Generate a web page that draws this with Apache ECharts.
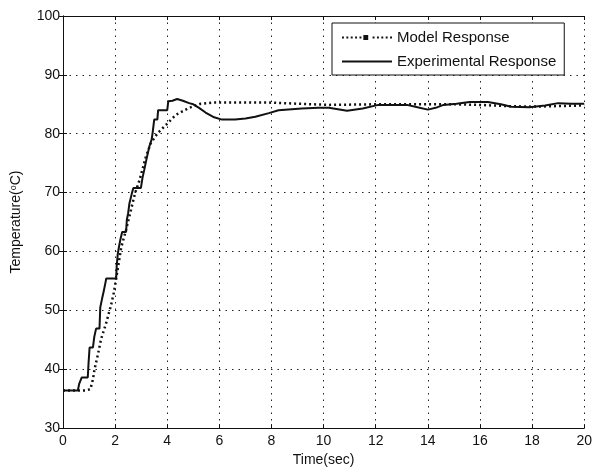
<!DOCTYPE html>
<html>
<head>
<meta charset="utf-8">
<script src="https://cdn.jsdelivr.net/npm/echarts@6/dist/echarts.min.js"></script>
<style>
  html, body { margin: 0; padding: 0; background: #fff; }
  #chart { width: 595px; height: 472px; }
</style>
</head>
<body>
<div id="chart"></div>
<script>
// Step response: time (s) vs temperature (°C)
const seriesNames = ['Model Response', 'Experimental Response'];

const modelResponse = [
  [0, 36.4], [0.85, 36.4], [1.05, 36.6], [1.15, 38.3], [1.21, 40.0], [1.34, 42.5],
  [1.46, 45.1], [1.66, 47.9], [1.85, 51.0], [1.95, 53.0], [2.1, 57.0], [2.23, 60.6],
  [2.42, 63.7], [2.61, 67.1], [2.77, 70.0], [2.9, 71.6], [2.99, 73.0], [3.18, 76.1],
  [3.37, 78.4], [3.63, 80.1], [3.95, 81.5], [4.33, 83.2], [4.58, 83.8], [4.84, 84.4],
  [5.28, 85.1], [5.8, 85.3], [6.5, 85.3], [7.9, 85.3], [9.0, 85.1], [10.2, 84.9],
  [12, 85.0], [14, 85.0], [15, 85.0], [16, 84.9], [17, 84.7], [18, 84.6], [19, 84.7], [20, 84.8]
];

const experimentalResponse = [
  [0, 36.4], [0.57, 36.4], [0.62, 37.5], [0.72, 38.6], [0.95, 38.6], [0.98, 41.0],
  [1.02, 43.7], [1.15, 43.7], [1.2, 45.5], [1.27, 46.9], [1.4, 46.9], [1.43, 50.5],
  [1.5, 52.0], [1.55, 53.0], [1.62, 54.5], [1.66, 55.4], [2.04, 55.4], [2.06, 57.5],
  [2.1, 59.5], [2.14, 60.6], [2.2, 62.0], [2.27, 63.3], [2.42, 63.3], [2.45, 65.4],
  [2.5, 66.5], [2.55, 68.2], [2.65, 70.0], [2.7, 70.8], [2.99, 70.8], [3.05, 72.5],
  [3.12, 73.9], [3.2, 75.6], [3.31, 77.8], [3.4, 79.0], [3.44, 80.2], [3.5, 82.4],
  [3.62, 82.4], [3.65, 84.0], [4.0, 84.0], [4.04, 85.5], [4.2, 85.6], [4.38, 85.9],
  [4.6, 85.6], [4.84, 85.2], [5.0, 85.0], [5.22, 84.4], [5.47, 83.6], [5.8, 82.8],
  [6.1, 82.4], [6.6, 82.4], [7.0, 82.6], [7.38, 82.9], [7.9, 83.5], [8.27, 84.0],
  [9.16, 84.3], [9.8, 84.4], [10.2, 84.4], [10.9, 83.9], [11.5, 84.3], [12.1, 84.9],
  [13.2, 84.9], [13.6, 84.5], [14.0, 84.1], [14.3, 84.4], [14.6, 84.9], [15.1, 85.1],
  [15.6, 85.4], [16.3, 85.4], [16.8, 85.0], [17.2, 84.6], [17.9, 84.5], [18.5, 84.8],
  [19.0, 85.2], [19.5, 85.1], [20, 85.1]
];

const xTicks = { min: 0, max: 20, interval: 2 };
const yTicks = { min: 30, max: 100, interval: 10 };

const font = 'Liberation Sans, Arial, Helvetica, sans-serif';
const ink = '#111';

const gridLine = { show: true, lineStyle: { color: '#222', width: 1, type: [1.5, 5] } };

// Legend glyphs built as filled paths inside a 50x14 box (corner moves fix the box size)
const ICON_W = 50, ICON_H = 14;
const frame = 'M0,0M' + ICON_W + ',' + ICON_H;
const solidIcon = 'path://' + frame + 'M0,6H' + ICON_W + 'V8H0Z';
let dots = '';
for (let x = 0; x < ICON_W; x += 4.5) {
  if (x > 19 && x < 29) continue;
  dots += 'M' + x + ',6h2v2h-2z';
}
const dottedIcon = 'path://' + frame + dots + 'M22,4.5h5v5h-5z';

const chart = echarts.init(document.getElementById('chart'), null, { renderer: 'canvas' });

chart.setOption({
  animation: false,
  backgroundColor: '#fff',
  grid: { left: 63, right: 8, top: 16, bottom: 43, containLabel: false },
  legend: {
    orient: 'vertical',
    left: 332,
    top: 23,
    padding: [7, 8, 6, 10],
    itemGap: 9,
    itemWidth: ICON_W,
    itemHeight: ICON_H,
    backgroundColor: '#fff',
    borderColor: ink,
    borderWidth: 1,
    borderRadius: 0,
    textStyle: { fontFamily: font, fontSize: 15, color: ink },
    data: [
      { name: seriesNames[0], icon: dottedIcon },
      { name: seriesNames[1], icon: solidIcon }
    ]
  },
  xAxis: [
    {
      type: 'value', min: xTicks.min, max: xTicks.max, interval: xTicks.interval,
      name: 'Time(sec)', nameLocation: 'middle', nameGap: 24,
      nameTextStyle: { fontFamily: font, fontSize: 14, color: ink },
      axisLine: { show: true, lineStyle: { color: ink, width: 1 } },
      axisTick: { show: true, inside: true, length: 4, lineStyle: { color: ink } },
      axisLabel: { fontFamily: font, fontSize: 14, color: ink, margin: 6 },
      splitLine: gridLine
    },
    {
      type: 'value', position: 'top', min: xTicks.min, max: xTicks.max, interval: xTicks.interval,
      axisLine: { show: true, lineStyle: { color: ink, width: 1 } },
      axisTick: { show: true, inside: true, length: 4, lineStyle: { color: ink } },
      axisLabel: { show: false },
      splitLine: { show: false }
    }
  ],
  yAxis: [
    {
      type: 'value', min: yTicks.min, max: yTicks.max, interval: yTicks.interval,
      name: 'Temperature({sup|o}C)', nameLocation: 'middle', nameGap: 39, nameRotate: 90,
      nameTextStyle: {
        fontFamily: font, fontSize: 14, color: ink,
        rich: { sup: { fontFamily: font, fontSize: 9, color: ink, verticalAlign: 'top', padding: [0, 0, 6, 0] } }
      },
      axisLine: { show: true, lineStyle: { color: ink, width: 1 } },
      axisTick: { show: true, inside: true, length: 4, lineStyle: { color: ink } },
      axisLabel: { fontFamily: font, fontSize: 14, color: ink, margin: 3 },
      splitLine: gridLine
    },
    {
      type: 'value', position: 'right', min: yTicks.min, max: yTicks.max, interval: yTicks.interval,
      axisLine: { show: true, lineStyle: { color: ink, width: 1 } },
      axisTick: { show: true, inside: true, length: 4, lineStyle: { color: ink } },
      axisLabel: { show: false },
      splitLine: { show: false }
    }
  ],
  series: [
    {
      name: seriesNames[0], type: 'line', data: modelResponse,
      xAxisIndex: 0, yAxisIndex: 0,
      showSymbol: false, symbol: 'none',
      itemStyle: { color: ink },
      lineStyle: { color: ink, width: 2.5, type: [2, 3] },
      z: 3
    },
    {
      name: seriesNames[1], type: 'line', data: experimentalResponse,
      xAxisIndex: 0, yAxisIndex: 0,
      showSymbol: false, symbol: 'none',
      itemStyle: { color: ink },
      lineStyle: { color: ink, width: 2, type: 'solid' },
      z: 4
    }
  ]
});
</script>
</body>
</html>
